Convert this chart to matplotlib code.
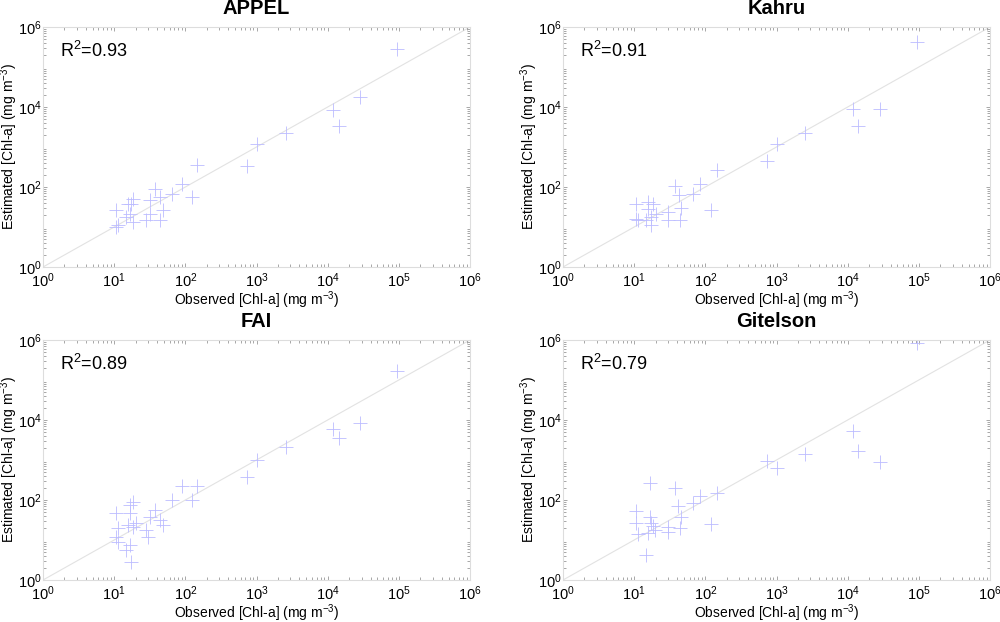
import matplotlib.pyplot as plt
import numpy as np

plt.rcParams['font.family'] = ['Liberation Sans', 'DejaVu Sans']
plt.rcParams['mathtext.fontset'] = 'custom'
plt.rcParams['mathtext.rm'] = 'Liberation Sans'

# values as log10 (observed, estimated)
appel_obs = [4.97, 4.45, 4.08, 4.16, 3.41, 3.00, 2.87, 2.17, 1.95, 2.09, 1.81, 1.57, 1.64, 1.50,
             1.68, 1.64, 1.45, 1.50, 1.27, 1.20, 1.22, 1.17, 1.27, 1.03, 1.05, 1.03, 1.24]
appel_est = [5.46, 4.25, 3.92, 3.52, 3.35, 3.08, 2.52, 2.54, 2.08, 1.75, 1.83, 1.96, 1.75, 1.67,
             1.42, 1.17, 1.17, 1.33, 1.71, 1.57, 1.33, 1.25, 1.13, 1.42, 1.04, 1.00, 1.58]

kahru_obs = [4.97, 4.08, 4.45, 4.15, 3.40, 3.00, 2.86, 2.17, 1.92, 2.08, 1.82, 1.57, 1.63, 1.66,
             1.64, 1.48, 1.48, 1.27, 1.20, 1.24, 1.24, 1.17, 1.03, 1.03, 1.05, 1.20, 1.31]
kahru_est = [5.63, 3.96, 3.96, 3.52, 3.35, 3.07, 2.64, 2.42, 2.07, 1.43, 1.82, 2.02, 1.79, 1.48,
             1.17, 1.38, 1.17, 1.58, 1.63, 1.25, 1.04, 1.17, 1.58, 1.21, 1.17, 1.46, 1.33]

fai_obs = [4.97, 4.45, 4.08, 4.16, 3.41, 3.00, 2.87, 2.17, 1.95, 2.09, 1.81, 1.57, 1.64, 1.68, 1.50,
           1.45, 1.48, 1.31, 1.27, 1.22, 1.22, 1.20, 1.27, 1.22, 1.17, 1.24, 1.03, 1.05, 1.03, 1.05]
fai_est = [5.23, 3.93, 3.77, 3.54, 3.33, 3.00, 2.58, 2.35, 2.35, 2.00, 2.00, 1.75, 1.50, 1.38, 1.58,
           1.25, 1.08, 1.42, 1.96, 1.88, 1.68, 1.38, 1.33, 0.88, 0.75, 0.46, 1.67, 1.29, 1.08, 0.96]

git_obs = [4.97, 4.08, 4.15, 4.45, 3.40, 2.86, 3.00, 2.17, 1.92, 1.82, 2.08, 1.57, 1.62, 1.66,
           1.64, 1.48, 1.48, 1.22, 1.22, 1.24, 1.27, 1.20, 1.17, 1.03, 1.03, 1.05, 1.29]
git_est = [5.93, 3.73, 3.23, 2.94, 3.15, 2.98, 2.79, 2.17, 2.10, 1.93, 1.40, 2.29, 1.85, 1.57,
           1.29, 1.33, 1.21, 2.43, 1.57, 1.42, 1.35, 1.18, 0.63, 1.73, 1.42, 1.15, 1.25]

names = ['APPEL', 'Kahru', 'FAI', 'Gitelson']
r2 = [0.93, 0.91, 0.89, 0.79]
obs = [appel_obs, kahru_obs, fai_obs, git_obs]
est = [appel_est, kahru_est, fai_est, git_est]

positions = [[0.043, 0.5707, 0.427, 0.3859], [0.563, 0.5707, 0.427, 0.3859],
             [0.043, 0.0675, 0.427, 0.3859], [0.563, 0.0675, 0.427, 0.3859]]

fig = plt.figure(figsize=(10, 6.22), dpi=100)

for i in range(4):
    ax = fig.add_axes(positions[i])
    x = 10 ** np.array(obs[i])
    y = 10 ** np.array(est[i])
    ax.plot([1, 1e6], [1, 1e6], color='#e2e2e2', linewidth=0.8, zorder=1)
    ax.plot(x, y, linestyle='none', marker='+', markersize=10, markeredgewidth=0.6,
            color='#bcbcff', zorder=2)
    ax.set_xscale('log')
    ax.set_yscale('log')
    ax.set_xlim(1, 1e6)
    ax.set_ylim(1, 1e6)
    ax.set_xticks([1, 1e1, 1e2, 1e3, 1e4, 1e5, 1e6])
    ax.set_yticks([1, 1e2, 1e4, 1e6])
    ax.tick_params(which='both', direction='in', top=True, right=True, color='#999999',
                   labelsize=10.5)
    ax.tick_params(axis='x', which='major', pad=3)
    ax.tick_params(axis='y', which='major', pad=1)
    ax.tick_params(which='major', length=3, width=0.6)
    ax.tick_params(which='minor', length=2, width=0.6)
    for s in ax.spines.values():
        s.set_color('#dddddd')
        s.set_linewidth(0.8)
    ax.set_title(names[i], fontsize=14.5, fontweight='bold', pad=9)
    ax.set_xlabel('Observed [Chl-a] (mg m$^{-3}$)', fontsize=10)
    ax.set_ylabel('Estimated [Chl-a] (mg m$^{-3}$)', fontsize=10)
    ax.xaxis.set_label_coords(0.5, -0.093)
    ax.yaxis.set_label_coords(-0.054, 0.5)
    ax.text(0.04, 0.90, 'R$^2$=%.2f' % r2[i], transform=ax.transAxes, fontsize=13,
            va='center', ha='left')

fig.savefig('out.png', dpi=100)
